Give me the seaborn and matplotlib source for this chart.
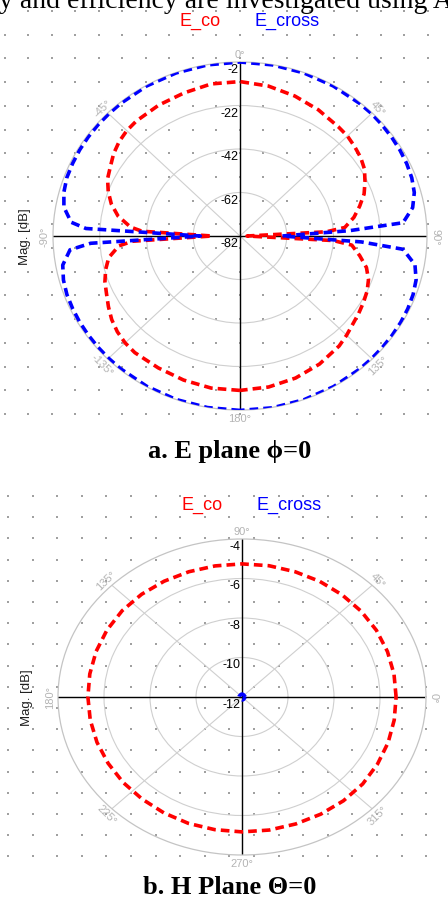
import numpy as np
import seaborn as sns
import matplotlib.pyplot as plt
from matplotlib.transforms import offset_copy

# E plane (phi = 0), theta in degrees, magnitude in dB
theta_e = [-180, -170, -160, -150, -140, -135, -130, -125, -120, -115, -110, -105, -100, -95, -93,
           -90, -87, -85, -80, -75, -70, -65, -60, -55, -50, -45, -40, -30, -20, -10, 0,
           10, 20, 30, 40, 45, 50, 55, 60, 65, 70, 75, 80, 85, 87, 90, 93, 95,
           100, 105, 110, 115, 120, 125, 130, 135, 140, 150, 160, 170, 180]
e_co_e = [-11, -11, -11.5, -12, -12, -12.5, -13.5, -15, -17, -19, -20.5, -22.5, -25, -30, -36,
          -70, -40, -35, -29, -25, -22, -19.5, -18, -16, -14.5, -13.5, -13, -12.5, -12, -11, -11,
          -12, -13.5, -15, -16.5, -17, -18, -19, -20.5, -23, -25.5, -29, -32.5, -37, -45, -79, -42, -34,
          -30, -26, -23.5, -22, -21, -20, -19, -17.5, -16, -14, -12.5, -11.5, -11]
e_cross_e = [-1.8, -1.9, -2, -2.2, -2.4, -2.5, -2.6, -2.7, -2.8, -3, -3.2, -3.8, -5, -9, -18,
             -65, -16, -9.5, -5.5, -4, -3.2, -3, -2.8, -2.7, -2.6, -2.6, -2.5, -2.3, -2.2, -2.1, -2,
             -2.1, -2.2, -2.3, -2.4, -2.4, -2.6, -2.8, -3, -3.3, -3.8, -4.8, -7, -12, -35, -64, -30, -12,
             -6, -4, -3.2, -2.8, -2.6, -2.5, -2.4, -2.3, -2.2, -2, -1.9, -1.8, -1.8]

# H plane (theta = 0), phi in degrees
phi_h = [0, 10, 20, 30, 40, 50, 60, 70, 80, 90, 100, 110, 120, 130, 140, 150, 160, 170, 180,
         190, 200, 210, 220, 230, 240, 250, 260, 270, 280, 290, 300, 310, 320, 330, 340, 350, 360]
e_co_h = [-5.30, -5.29, -5.27, -5.25, -5.24, -5.24, -5.24, -5.25, -5.25, -5.26, -5.26, -5.25, -5.23,
          -5.21, -5.20, -5.22, -5.25, -5.28, -5.30, -5.30, -5.29, -5.28, -5.26, -5.25, -5.22,
          -5.19, -5.18, -5.17, -5.16, -5.16, -5.15, -5.14, -5.15, -5.20, -5.24, -5.28, -5.30]
e_cross_h = [-11.86, -11.87, -11.87, -11.88, -11.88, -11.87, -11.87, -11.86, -11.86, -11.85, -11.86,
             -11.86, -11.87, -11.88, -11.88, -11.88, -11.87, -11.87, -11.86, -11.86, -11.87, -11.87,
             -11.88, -11.88, -11.88, -11.87, -11.87, -11.86, -11.85, -11.86, -11.86, -11.87, -11.88,
             -11.88, -11.87, -11.87, -11.86]

rticks_e = [-82, -62, -42, -22, -2]
rticks_h = [-12, -10, -8, -6, -4]
angs_e = [0, 45, 90, 135, 180, -135, -90, -45]
angs_h = [0, 45, 90, 135, 180, 225, 270, 315]

plt.rcParams['font.family'] = ['Liberation Sans', 'DejaVu Sans']
W, H = 448, 904
fig = plt.figure(figsize=(W / 100, H / 100), dpi=100)

# background layer in pixel coordinates
bg = fig.add_axes([0, 0, 1, 1])
bg.set_xlim(0, W)
bg.set_ylim(H, 0)
bg.axis('off')

# dotted grid of the HFSS plot windows
for x0, dx, y0, dy in [(4.5, 23.5, 12, 23.7), (8, 24.6, 497, 21.2)]:
    gx, gy = np.meshgrid(x0 + dx * np.arange(19), y0 + dy * np.arange(18))
    bg.scatter(gx.ravel(), gy.ravel(), s=1.4, marker='s', color='#a0a0a0', lw=0)

serif = ['Liberation Serif', 'DejaVu Serif']
bg.text(-1, 8, 'y and efficiency are investigated using A', fontsize=20,
        family=serif, va='baseline', ha='left')


def panel(cx, cy, rx, ry, theta, co, cross, rticks, angs, zero, direction, up, legend_y):
    ax = fig.add_axes([(cx - rx) / W, 1 - (cy + ry) / H, 2 * rx / W, 2 * ry / H], projection='polar')
    ax.set_aspect('auto')
    ax.patch.set_alpha(0)
    ax.set_theta_zero_location(zero)
    ax.set_theta_direction(direction)
    lo, hi = rticks[0], rticks[-1]

    # black main axes
    ax.plot(np.deg2rad([0, 180]), [hi, hi], color='black', lw=1, zorder=2)
    ax.plot(np.deg2rad([90, 270]), [hi, hi], color='black', lw=1, zorder=2)

    th = np.deg2rad(theta)
    sns.lineplot(x=th, y=co, ax=ax, sort=False, estimator=None, color='#ff0000',
                 lw=2.6, linestyle=(0, (2.4, 1.4)), legend=False, zorder=3)
    sns.lineplot(x=th, y=cross, ax=ax, sort=False, estimator=None, color='#0000ff',
                 lw=2.6, linestyle=(0, (2.4, 1.4)), legend=False, zorder=3)

    ax.set_xlim(0, 2 * np.pi)
    ax.set_ylim(lo, hi)
    ax.set_yticks(rticks[1:-1])
    ax.set_xticks(np.deg2rad(angs) % (2 * np.pi))
    ax.set_xticklabels([])
    ax.set_yticklabels([])
    ax.set_xlabel('')
    ax.set_ylabel('')
    ax.tick_params(length=0)
    ax.grid(True, color='#cfcfcf', lw=0.8)
    ax.spines['polar'].set_color('#c4c4c4')
    ax.spines['polar'].set_linewidth(0.9)

    # radial labels along the upward axis
    tr = offset_copy(ax.transData, fig=fig, x=-2, y=-1, units='dots')
    for t in rticks:
        ax.text(np.deg2rad(up), t, str(t), transform=tr, ha='right', va='top', fontsize=9)

    # angle labels around the rim, pushed out a few pixels
    zdeg = 90 if zero == 'N' else 0
    for a in angs:
        phi = (zdeg + direction * a) % 360
        rot = phi - 90 if np.sin(np.deg2rad(phi)) > -1e-9 else phi - 270
        d = 8
        tl = offset_copy(ax.transData, fig=fig, x=d * np.cos(np.deg2rad(phi)),
                         y=d * np.sin(np.deg2rad(phi)), units='dots')
        ax.text(np.deg2rad(a), hi, f'{a}°', transform=tl, ha='center', va='center',
                rotation=rot, rotation_mode='anchor', fontsize=8, color='#b4b4b4')

    bg.text(cx - 215, cy, 'Mag. [dB]', rotation=90, ha='center', va='center', fontsize=9.5,
            color='#202020')
    bg.text(cx - 40, legend_y, 'E_co', color='#ff0000', fontsize=13, ha='center', va='center')
    bg.text(cx + 47, legend_y, 'E_cross', color='#0000ff', fontsize=13, ha='center', va='center')
    return ax


panel(240, 237, 187, 174, theta_e, e_co_e, e_cross_e, rticks_e, angs_e, 'N', -1, 0, 21)
panel(242, 698, 184, 158, phi_h, e_co_h, e_cross_h, rticks_h, angs_h, 'E', 1, 90, 505)

bg.text(230, 452, 'a. E plane ϕ=0', fontsize=19, family=serif, weight='bold', ha='center', va='center')
bg.text(230, 888, 'b. H Plane Θ=0', fontsize=19, family=serif, weight='bold', ha='center', va='center')

fig.savefig('out.png', dpi=100)
